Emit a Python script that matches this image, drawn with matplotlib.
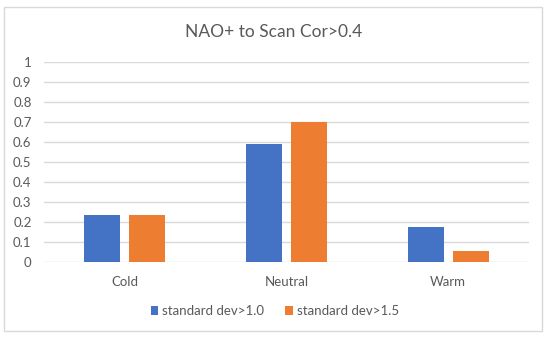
import numpy as np
import matplotlib.pyplot as plt
from matplotlib.patches import Rectangle

# data
categories = ['Cold', 'Neutral', 'Warm']
sd10 = [0.233, 0.59, 0.173]
sd15 = [0.233, 0.70, 0.054]
yticks = [0, 0.1, 0.2, 0.3, 0.4, 0.5, 0.6, 0.7, 0.8, 0.9, 1]

plt.rcParams['font.family'] = ['Lato', 'DejaVu Sans']

fig = plt.figure(figsize=(5.5, 3.38), dpi=100)
ax = fig.add_axes([0.08, 0.2249, 0.8818, 0.5917])

x = np.arange(len(categories))
w = 0.223
off = 0.139
b1 = ax.bar(x - off, sd10, w, color='#4472C4', label='standard dev>1.0', zorder=3)
b2 = ax.bar(x + off, sd15, w, color='#ED7D31', label='standard dev>1.5', zorder=3)

ax.set_xlim(-0.5, 2.5)
ax.set_ylim(0, 1)
ax.set_yticks(yticks)
ax.set_yticklabels(['%g' % t for t in yticks])
ax.set_xticks(x)
ax.set_xticklabels(categories)
ax.tick_params(axis='both', length=0, labelsize=9.5, colors='#595959')
ax.tick_params(axis='y', pad=9)
ax.tick_params(axis='x', pad=10)
ax.grid(axis='y', color='#D9D9D9', linewidth=1, zorder=0)
for s in ax.spines.values():
    s.set_visible(False)

fig.suptitle('NAO+ to Scan Cor>0.4', x=274 / 550, y=1 - 32 / 338, va='center',
             fontsize=12.5, color='#595959')

fig.legend(handles=[b1, b2], loc='center', bbox_to_anchor=(0.5, 1 - 311 / 338),
           ncol=2, frameon=False, fontsize=9.5, labelcolor='#595959',
           handlelength=0.6, handleheight=0.6, handletextpad=0.3, columnspacing=1.6)

fig.patches.append(Rectangle((4 / 550, 1 - 331 / 338), 538 / 550, 324 / 338,
                             transform=fig.transFigure, fill=False,
                             edgecolor='#D9D9D9', linewidth=1))

fig.savefig('out.png', dpi=100)
